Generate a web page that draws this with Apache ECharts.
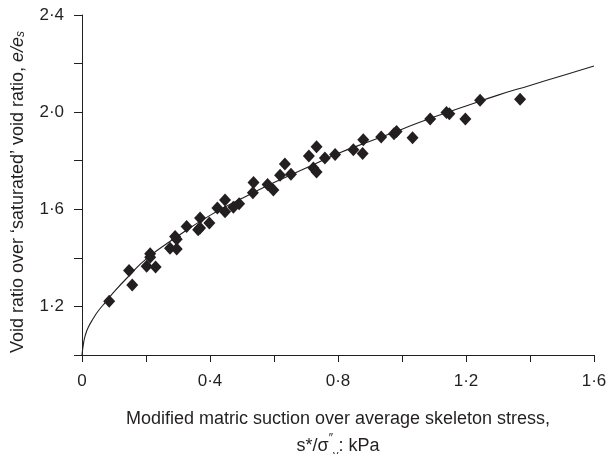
<!DOCTYPE html>
<html>
<head>
<meta charset="utf-8">
<script src="https://cdn.jsdelivr.net/npm/echarts@6/dist/echarts.min.js"></script>
<style>html,body{margin:0;padding:0;background:#fff}#c{width:608px;height:454px}</style>
</head>
<body>
<div id="c"></div>
<script>
// Measured points: modified matric suction ratio (x) vs e/e_s (y)
const pointX = [0.085,0.147,0.157,0.202,0.213,0.213,0.230,0.275,0.291,0.296,0.296,0.327,0.363,0.369,0.369,0.398,0.423,0.447,0.447,0.473,0.491,0.536,0.534,0.580,0.598,0.619,0.634,0.653,0.709,0.733,0.723,0.733,0.759,0.791,0.848,0.879,0.877,0.935,0.975,0.983,1.033,1.088,1.139,1.148,1.198,1.244,1.369];
const pointY = [1.221,1.348,1.288,1.365,1.417,1.403,1.362,1.440,1.488,1.477,1.436,1.529,1.516,1.564,1.523,1.544,1.605,1.638,1.590,1.608,1.623,1.710,1.668,1.702,1.679,1.740,1.786,1.744,1.819,1.858,1.770,1.754,1.811,1.826,1.845,1.886,1.830,1.898,1.911,1.920,1.895,1.972,1.999,1.993,1.972,2.049,2.053];
// Fitted curve
const curveX = [0,0.005,0.01,0.02,0.035,0.05,0.075,0.1,0.15,0.2,0.3,0.4,0.5,0.6,0.7,0.8,0.9,1.0,1.1,1.2,1.3,1.4,1.5,1.6];
const curveY = [1.00,1.05,1.08,1.115,1.15,1.18,1.22,1.26,1.33,1.395,1.49,1.575,1.645,1.71,1.77,1.83,1.88,1.93,1.98,2.025,2.07,2.11,2.15,2.19];
const xTickValues = [0,0.4,0.8,1.2,1.6];
const xTickLabels = ['0','0·4','0·8','1·2','1·6'];
const yTickValues = [1.2,1.6,2.0,2.4];
const yTickLabels = ['1·2','1·6','2·0','2·4'];

const ink = '#231f20';
const font = 'Liberation Sans, Arial, sans-serif';
function lab(v, vals, labs){
  for (let i=0;i<vals.length;i++) if (Math.abs(v-vals[i])<1e-6) return labs[i];
  return '';
}
const chart = echarts.init(document.getElementById('c'), null, {renderer:'canvas'});
chart.setOption({
  animation:false,
  backgroundColor:'#fff',
  grid:{left:82,right:14,top:15,bottom:99,containLabel:false,outerBoundsMode:'none'},
  xAxis:{
    type:'value',min:0,max:1.6,interval:0.2,
    axisLine:{show:true,lineStyle:{color:ink,width:1}},
    axisTick:{show:true,length:7,lineStyle:{color:ink}},
    splitLine:{show:false},
    axisLabel:{margin:18,fontSize:17,color:ink,fontFamily:font,
      formatter:v=>lab(v,xTickValues,xTickLabels)},
    name:'Modified matric suction over average skeleton stress,\n{n|s*/σ}{sup|″}{sub|v}{n|: kPa}',
    nameLocation:'middle',nameGap:51,
    nameTextStyle:{fontSize:18,color:ink,fontFamily:font,lineHeight:27,align:'center',
      rich:{n:{fontSize:18,color:ink,fontFamily:font,lineHeight:27},
            sup:{fontSize:12,color:ink,fontFamily:font,verticalAlign:'top',lineHeight:24},
            sub:{fontSize:11,color:ink,fontFamily:font,verticalAlign:'bottom',lineHeight:20}}}
  },
  yAxis:{
    type:'value',min:1.0,max:2.4,interval:0.2,
    axisLine:{show:true,lineStyle:{color:ink,width:1}},
    axisTick:{show:true,length:8,lineStyle:{color:ink}},
    splitLine:{show:false},
    axisLabel:{margin:18,fontSize:17,color:ink,fontFamily:font,
      formatter:v=>lab(v,yTickValues,yTickLabels)},
    name:'{n|Void ratio over ‘saturated’ void ratio, }{i|e/e}{sub|s}',
    nameLocation:'middle',nameGap:55,nameRotate:90,
    nameTextStyle:{fontSize:18,color:ink,fontFamily:font,padding:[0,14,0,0],
      rich:{n:{fontSize:18,color:ink,fontFamily:font},
            i:{fontSize:18,color:ink,fontFamily:font,fontStyle:'italic'},
            sub:{fontSize:12,color:ink,fontFamily:font,fontStyle:'italic',verticalAlign:'bottom',lineHeight:13}}}
  },
  series:[
    {type:'line',data:curveX.map((x,i)=>[x,curveY[i]]),smooth:true,showSymbol:false,
     lineStyle:{color:ink,width:1.1},z:2},
    {type:'scatter',data:pointX.map((x,i)=>[x,pointY[i]]),symbol:'diamond',symbolSize:[12,13],
     itemStyle:{color:ink,opacity:1},z:3}
  ]
});
</script>
</body>
</html>
